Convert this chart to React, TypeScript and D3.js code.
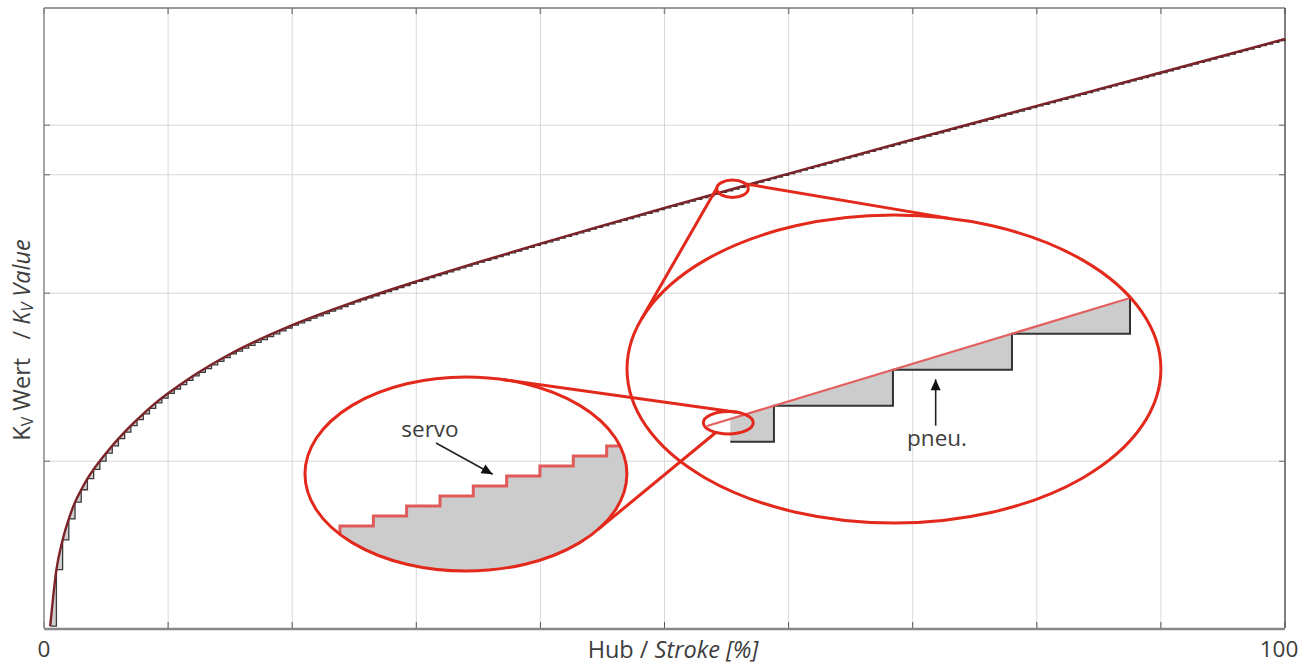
import React from 'react';
import * as d3 from 'd3';

// ---------- data ----------
// valve characteristic: stroke [%] -> Kv (relative units, axis 0..100)
const strokePct = [0.5, 1, 1.5, 2, 2.5, 3, 3.5, 4, 5, 6, 7, 8, 9, 10, 12, 15, 20, 25, 30, 35, 40, 45, 50, 60, 70, 80, 90, 100];
const kvValue = [0.3, 9.4, 14.2, 17.6, 20.3, 22.3, 24.1, 25.6, 28.2, 30.55, 32.65, 34.55, 36.3, 37.85, 40.65, 44.2, 48.85, 52.6, 55.9, 59.0, 62.0, 64.9, 67.75, 73.3, 78.8, 84.2, 89.6, 95.0];
// pneumatic positioner resolution (step width in % stroke)
const pneuStepWidth = 0.5;

const xTicks = [0, 10, 20, 30, 40, 50, 60, 70, 80, 90, 100];
const xTickLabels = ['0', '100'];
const xTickLabelValues = [0, 100];
const yGridValues = [26.9, 54.0, 73.1, 81.1];

// annotation geometry (data coordinates)
const lensSmallTop = [55.48, 70.85, 1.27, 1.40]; // cx, cy, rx, ry
const lensSmallInner = [55.14, 33.1, 2.01, 1.81];
const lensPneu = [68.49, 41.77, 21.51, 24.84];
const lensServo = [34.0, 24.84, 12.97, 15.65];
// connector angles (deg) : [from, to]
const connTopToPneu = [[185, 199], [326, 282]];
const connInnerToServo = [[290, 283], [120, 35]];

// zoomed pneu detail
const pneuLensLineX = [53.43, 87.51];
const pneuLensLineKv = [32.58, 53.23];
const pneuLensStepX = [58.82, 68.41, 78.0, 87.51];
const pneuLensStart = 55.3;

// zoomed servo detail
const servoStepX = [23.85, 26.54, 29.22, 31.91, 34.59, 37.28, 39.96, 42.65, 45.34, 48.0];
const servoStepKv = [16.45, 18.06, 19.68, 21.29, 22.9, 24.52, 26.13, 27.74, 29.35];

const servoArrow = [[31.59, 29.84], [36.15, 24.79]];
const servoLabelPos = [31.1, 30.8];
const pneuArrow = [[71.85, 32.63], [71.85, 40.11]];
const pneuLabelPos = [71.96, 29.35];

// ---------- layout ----------
const W = 1316;
const H = 666;
const X0 = 44, X1 = 1285, Y0 = 628, Y1 = 8;

const x = d3.scaleLinear().domain([0, 100]).range([X0, X1]);
const y = d3.scaleLinear().domain([0, 100]).range([Y0, Y1]);

const RED = '#e2291c';
const CURVE = '#7b2329';
const TXT = '#3d3d3d';
const FONT = '"Open Sans", "Noto Sans", sans-serif';
const FS = 22.5;
const FS_AXIS = 23.5;

function ell(e: number[]) {
  const cx = x(e[0]), cy = y(e[1]);
  const rx = x(e[2]) - x(0), ry = y(0) - y(e[3]);
  return { cx, cy, rx, ry };
}
function ptOn(e: number[], deg: number) {
  const { cx, cy, rx, ry } = ell(e);
  const a = (deg * Math.PI) / 180;
  return [cx + rx * Math.cos(a), cy + ry * Math.sin(a)];
}

function arrowHead(p0: number[], p1: number[], len = 11, half = 5) {
  const dx = p1[0] - p0[0], dy = p1[1] - p0[1];
  const L = Math.hypot(dx, dy);
  const ux = dx / L, uy = dy / L;
  const bx = p1[0] - ux * len, by = p1[1] - uy * len;
  return `M${p1[0]},${p1[1]}L${bx - uy * half},${by + ux * half}L${bx + uy * half},${by - ux * half}Z`;
}

export default function App() {
  const kvAt = d3.scaleLinear().domain(strokePct).range(kvValue).clamp(true);

  // main curve
  const line = d3
    .line<number>()
    .x((_, i) => x(strokePct[i]))
    .y((d) => y(d))
    .curve(d3.curveMonotoneX);
  const curvePath = line(kvValue) || '';

  // pneumatic steps along the curve
  const stepStarts = d3.range(strokePct[0], 100, pneuStepWidth);
  let fillD = '';
  let stairD = '';
  stepStarts.forEach((s, i) => {
    const e = Math.min(100, s + pneuStepWidth);
    const k0 = kvAt(s), k1 = kvAt(e);
    fillD += `M${x(s)},${y(k0)}L${x(e)},${y(k1)}L${x(e)},${y(k0)}Z`;
    stairD += `${i === 0 ? 'M' : 'L'}${x(s)},${y(k0)}L${x(e)},${y(k0)}L${x(e)},${y(k1)}`;
  });

  // pneu lens detail
  const lensLine = d3.scaleLinear().domain(pneuLensLineX).range(pneuLensLineKv);
  const prevStep = pneuLensStepX[0] - (pneuLensStepX[1] - pneuLensStepX[0]);
  const levels = [prevStep, ...pneuLensStepX].map((v) => lensLine(v));
  let pStair = `M${x(pneuLensStart)},${y(levels[0])}`;
  pneuLensStepX.forEach((sx, i) => {
    pStair += `L${x(sx)},${y(levels[i])}L${x(sx)},${y(levels[i + 1])}`;
  });
  let pFill = `M${x(pneuLensStart)},${y(lensLine(pneuLensStart))}L${x(pneuLensLineX[1])},${y(pneuLensLineKv[1])}`;
  for (let i = pneuLensStepX.length - 1; i >= 0; i--) {
    pFill += `L${x(pneuLensStepX[i])},${y(levels[i + 1])}L${x(pneuLensStepX[i])},${y(levels[i])}`;
  }
  pFill += `L${x(pneuLensStart)},${y(levels[0])}Z`;

  // servo lens detail
  const sv = ell(lensServo);
  let sStair = `M${x(servoStepX[0])},${sv.cy + sv.ry + 10}`;
  servoStepKv.forEach((k, i) => {
    sStair += `L${x(servoStepX[i])},${y(k)}L${x(servoStepX[i + 1])},${y(k)}`;
  });
  const sFill = sStair + `L${x(servoStepX[servoStepX.length - 1])},${sv.cy + sv.ry + 10}Z`;

  const eTop = ell(lensSmallTop);
  const eIn = ell(lensSmallInner);
  const eP = ell(lensPneu);

  const sa0 = [x(servoArrow[0][0]), y(servoArrow[0][1])];
  const sa1 = [x(servoArrow[1][0]), y(servoArrow[1][1])];
  const pa0 = [x(pneuArrow[0][0]), y(pneuArrow[0][1])];
  const pa1 = [x(pneuArrow[1][0]), y(pneuArrow[1][1])];

  const tickLen = 6;

  return (
    <svg width={W} height={H} style={{ position: 'absolute', left: 0, top: 0, background: '#fff' }} fontFamily={FONT}>
      <defs>
        <clipPath id="servoClip">
          <ellipse cx={sv.cx} cy={sv.cy} rx={sv.rx} ry={sv.ry} />
        </clipPath>
      </defs>

      {/* grid */}
      {xTicks.slice(1, -1).map((t) => (
        <line key={'gx' + t} x1={x(t)} x2={x(t)} y1={Y1} y2={Y0} stroke="#d9d9d9" strokeWidth={1} />
      ))}
      {yGridValues.map((t) => (
        <line key={'gy' + t} x1={X0} x2={X1} y1={y(t)} y2={y(t)} stroke="#d6d6d6" strokeWidth={1} />
      ))}

      {/* ticks */}
      {xTicks.map((t) => (
        <g key={'tx' + t}>
          <line x1={x(t)} x2={x(t)} y1={Y0} y2={Y0 - tickLen} stroke="#555" strokeWidth={1} />
          <line x1={x(t)} x2={x(t)} y1={Y1} y2={Y1 + tickLen} stroke="#888" strokeWidth={1.5} />
        </g>
      ))}
      {yGridValues.map((t) => (
        <g key={'ty' + t}>
          <line x1={X0} x2={X0 + tickLen} y1={y(t)} y2={y(t)} stroke="#666" strokeWidth={1} />
          <line x1={X1} x2={X1 - tickLen} y1={y(t)} y2={y(t)} stroke="#666" strokeWidth={1} />
        </g>
      ))}

      {/* frame */}
      <line x1={X0} x2={X1} y1={Y1} y2={Y1} stroke="#777" strokeWidth={1.5} />
      <line x1={X1} x2={X1} y1={Y1} y2={Y0} stroke="#555" strokeWidth={1.5} />
      <line x1={X0} x2={X0} y1={Y1} y2={Y0} stroke="#888" strokeWidth={1.5} />
      <line x1={X0} x2={X1} y1={Y0 + 1} y2={Y0 + 1} stroke="#888" strokeWidth={2.5} />

      {/* pneumatic steps + curve */}
      <path d={fillD} fill="#cfcfcf" stroke="none" />
      <path d={stairD} fill="none" stroke="#3a3a3a" strokeWidth={1.3} />
      <path d={curvePath} fill="none" stroke={CURVE} strokeWidth={2.4} />

      {/* servo lens detail */}
      <g clipPath="url(#servoClip)">
        <path d={sFill} fill="#cccccc" />
        <path d={sStair} fill="none" stroke="#e05a5a" strokeWidth={3} />
      </g>

      {/* pneu lens detail */}
      <path d={pFill} fill="#cccccc" />
      <path d={pStair} fill="none" stroke="#333" strokeWidth={2} />
      <line
        x1={x(pneuLensLineX[0])}
        y1={y(pneuLensLineKv[0])}
        x2={x(pneuLensLineX[1])}
        y2={y(pneuLensLineKv[1])}
        stroke="#e4605f"
        strokeWidth={2.2}
      />

      {/* lenses & connectors */}
      <g fill="none" stroke={RED} strokeWidth={3}>
        <ellipse cx={eP.cx} cy={eP.cy} rx={eP.rx} ry={eP.ry} />
        <ellipse cx={sv.cx} cy={sv.cy} rx={sv.rx} ry={sv.ry} />
        <ellipse cx={eTop.cx} cy={eTop.cy} rx={eTop.rx} ry={eTop.ry} />
        <ellipse cx={eIn.cx} cy={eIn.cy} rx={eIn.rx} ry={eIn.ry} />
        {connTopToPneu.map(([a, b], i) => {
          const p = ptOn(lensSmallTop, a), q = ptOn(lensPneu, b);
          return <line key={'c1' + i} x1={p[0]} y1={p[1]} x2={q[0]} y2={q[1]} />;
        })}
        {connInnerToServo.map(([a, b], i) => {
          const p = ptOn(lensSmallInner, a), q = ptOn(lensServo, b);
          return <line key={'c2' + i} x1={p[0]} y1={p[1]} x2={q[0]} y2={q[1]} />;
        })}
      </g>

      {/* arrows & labels */}
      <line x1={sa0[0]} y1={sa0[1]} x2={sa1[0]} y2={sa1[1]} stroke="#222" strokeWidth={1.6} />
      <path d={arrowHead(sa0, sa1)} fill="#111" />
      <line x1={pa0[0]} y1={pa0[1]} x2={pa1[0]} y2={pa1[1]} stroke="#222" strokeWidth={1.6} />
      <path d={arrowHead(pa0, pa1)} fill="#111" />
      <text x={x(servoLabelPos[0])} y={y(servoLabelPos[1])} textAnchor="middle" fontSize={FS} fill={TXT}>
        servo
      </text>
      <text x={x(pneuLabelPos[0])} y={y(pneuLabelPos[1])} textAnchor="middle" fontSize={FS} fill={TXT}>
        pneu.
      </text>

      {/* axis labels */}
      {xTickLabelValues.map((v, i) => (
        <text key={'xl' + v} x={x(v) + (v === 100 ? -6 : 0)} y={657} textAnchor="middle" fontSize={FS} fill={TXT}>
          {xTickLabels[i]}
        </text>
      ))}
      <text x={673} y={658} textAnchor="middle" fontSize={FS_AXIS} fill={TXT}>
        Hub / <tspan fontStyle="italic">Stroke [%]</tspan>
      </text>
      <text
        transform={`translate(30,340) rotate(-90)`}
        textAnchor="middle"
        fontSize={FS_AXIS}
        fill={TXT}
        style={{ whiteSpace: 'pre' }}
      >
        K<tspan fontSize={16} dy={3}>V</tspan>
        <tspan dy={-3}>{' Wert   / '}</tspan>
        <tspan fontStyle="italic">K</tspan>
        <tspan fontSize={16} dy={3} fontStyle="italic">V</tspan>
        <tspan dy={-3} fontStyle="italic">{' Value'}</tspan>
      </text>
    </svg>
  );
}
